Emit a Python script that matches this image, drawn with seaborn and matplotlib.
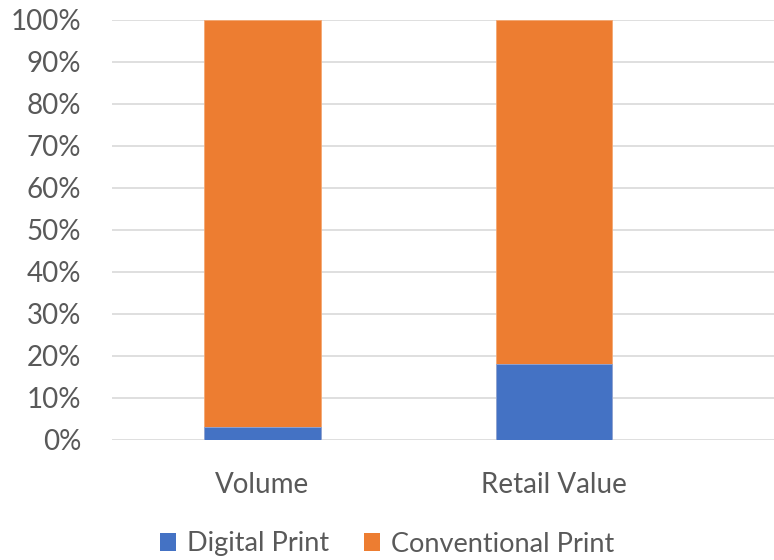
import matplotlib
matplotlib.use("Agg")
import matplotlib.pyplot as plt
import seaborn as sns
import pandas as pd
from matplotlib.patches import Patch
from matplotlib.ticker import FuncFormatter

categories = ["Volume", "Retail Value"]
digital = [3, 18]
conventional = [97, 82]
series_names = ["Digital Print", "Conventional Print"]
colors = ["#4472C4", "#ED7D31"]
yticks = list(range(0, 101, 10))

sns.set_theme(style="white")
plt.rcParams['font.family'] = ['Lato', 'DejaVu Sans']
text_color = "#595959"

df = pd.DataFrame({
    "category": categories,
    "digital": digital,
    "top": [d + c for d, c in zip(digital, conventional)],
})

fig = plt.figure(figsize=(7.74, 5.60), dpi=100)
ax = fig.add_axes([112 / 774, 1 - 440 / 560, 1 - 112 / 774, 420 / 560])

sns.barplot(data=df, x="category", y="top", color=colors[1], width=0.40,
            ax=ax, saturation=1, zorder=3, edgecolor="#F4A872", linewidth=0.6)
sns.barplot(data=df, x="category", y="digital", color=colors[0], width=0.40,
            ax=ax, saturation=1, zorder=4, edgecolor="#8FA9DC", linewidth=0.6)

ax.set_xlim(-0.516, 1.755)
ax.set_ylim(0, 100)
ax.set_yticks(yticks)
ax.yaxis.set_major_formatter(FuncFormatter(lambda v, p: f"{int(v)}%"))
ax.grid(axis="y", color="#D9D9D9", linewidth=1.2, zorder=0)
ax.set_axisbelow(True)
for s in ax.spines.values():
    s.set_visible(False)
ax.set_xlabel("")
ax.set_ylabel("")
ax.tick_params(axis="y", length=0, pad=22, labelsize=20, labelcolor=text_color)
ax.tick_params(axis="x", length=0, pad=23, labelsize=20, labelcolor=text_color)

handles = [Patch(facecolor=c, edgecolor="none") for c in colors]
fig.legend(handles, series_names, loc="center", bbox_to_anchor=(0.5, 1 - 544 / 560),
           ncol=2, frameon=False, fontsize=19.5, labelcolor=text_color,
           handlelength=0.6, handleheight=0.6, handletextpad=0.4, columnspacing=1.3,
           borderpad=0.2)

fig.savefig("out.png", dpi=100)
